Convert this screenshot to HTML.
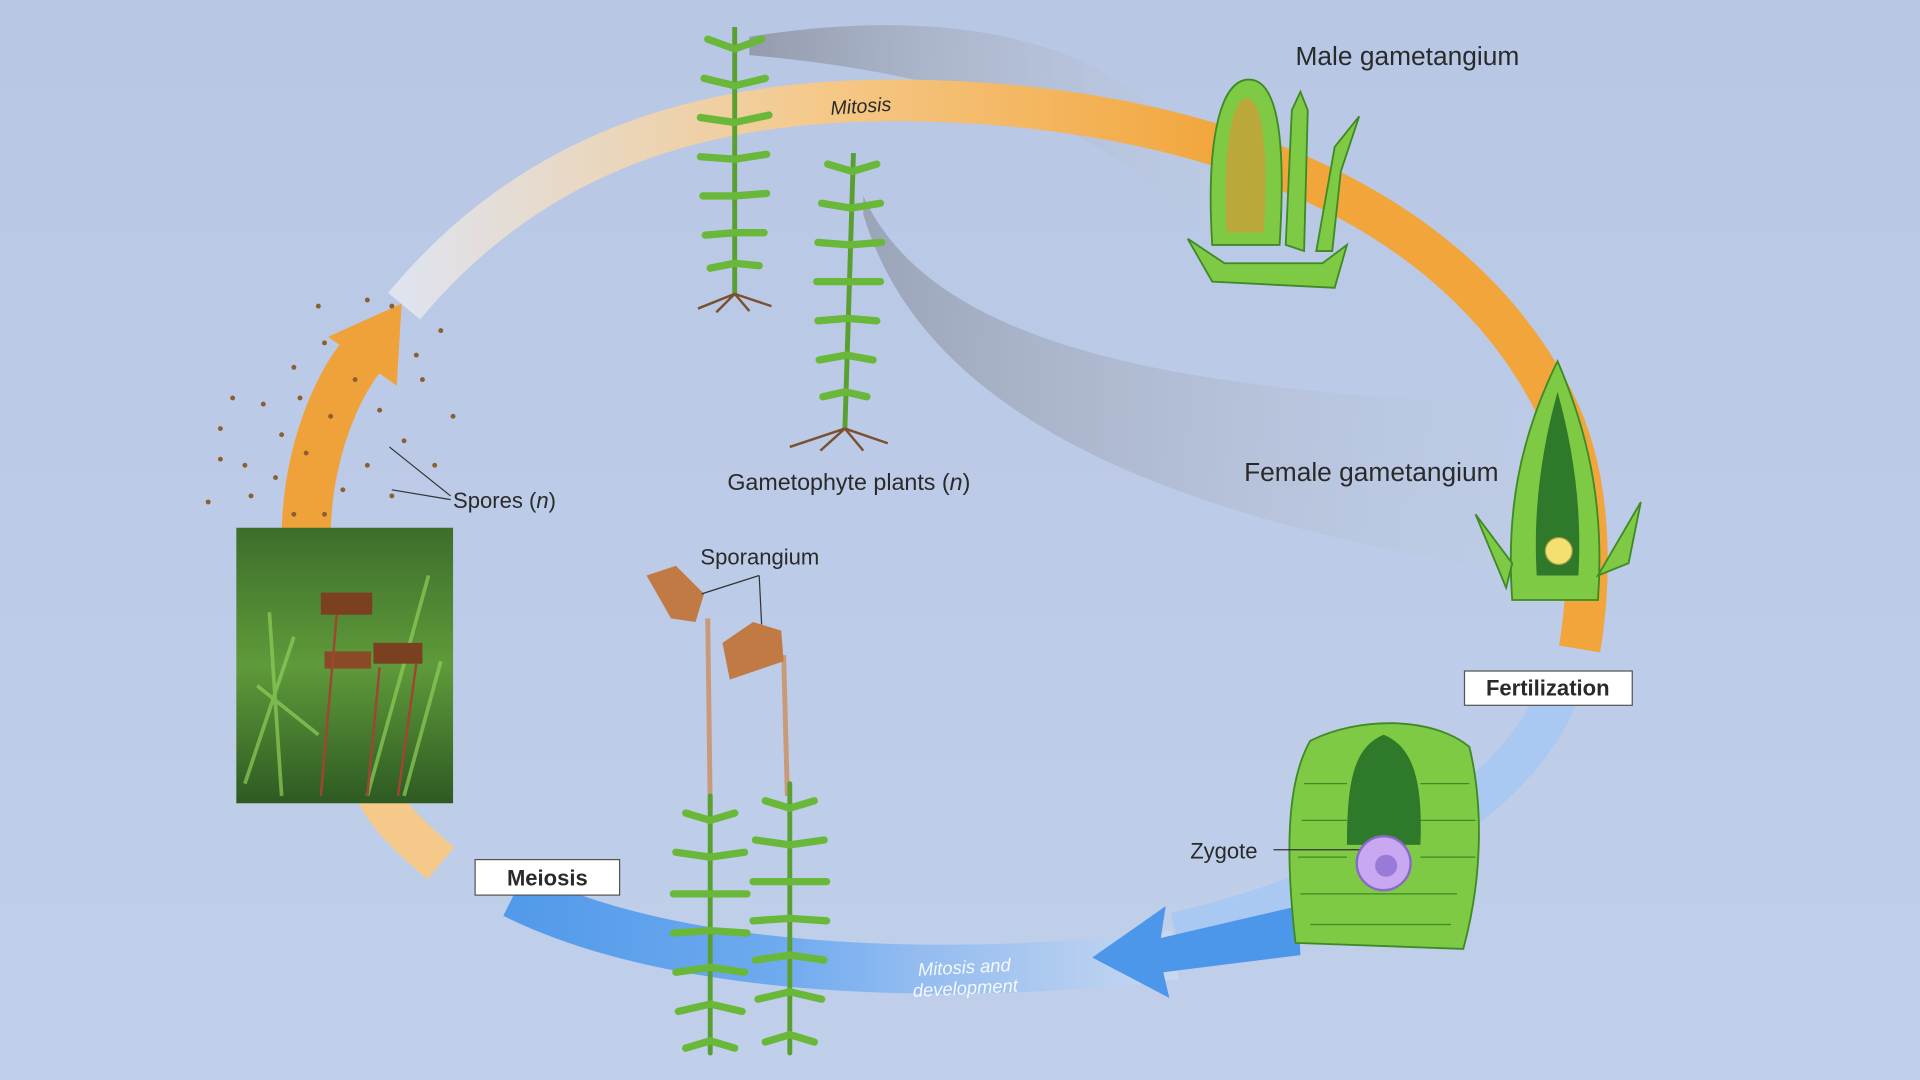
<!DOCTYPE html>
<html><head><meta charset="utf-8"><style>
html,body{margin:0;padding:0;width:1920px;height:1080px;overflow:hidden;background:#bccbe8}
svg{display:block}
text{font-family:"Liberation Sans",sans-serif;fill:#2a2a2a}
</style></head><body>
<svg width="1920" height="1080" viewBox="0 0 1568 882" xmlns="http://www.w3.org/2000/svg">
<defs>
<linearGradient id="bg" x1="0" y1="0" x2="0" y2="1"><stop offset="0" stop-color="#b8c7e4"/><stop offset="1" stop-color="#c0cfea"/></linearGradient>
<linearGradient id="org" x1="0" y1="0" x2="1" y2="0"><stop offset="0" stop-color="#dfe3ee"/><stop offset="0.35" stop-color="#f5c98a"/><stop offset="0.7" stop-color="#f2a53a"/><stop offset="1" stop-color="#f2a53a"/></linearGradient>
<linearGradient id="blu" x1="1" y1="0" x2="0" y2="0"><stop offset="0" stop-color="#c8d8f0"/><stop offset="0.4" stop-color="#8fbaf0"/><stop offset="0.6" stop-color="#6aa8ef"/><stop offset="1" stop-color="#4c97ea"/></linearGradient>
<linearGradient id="gr1" x1="0" y1="0" x2="1" y2="0"><stop offset="0" stop-color="#8f96a6" stop-opacity="0.9"/><stop offset="1" stop-color="#c4cde0" stop-opacity="0.2"/></linearGradient>
<linearGradient id="ph" x1="0" y1="0" x2="0" y2="1"><stop offset="0" stop-color="#3d6e2a"/><stop offset="0.5" stop-color="#5f9a3a"/><stop offset="1" stop-color="#2e5a22"/></linearGradient>
</defs>
<rect width="1568" height="882" fill="url(#bg)"/>
<path d="M612 30 C 800 0, 950 40, 1000 170 L 985 190 C 900 100, 780 60, 612 45 Z" fill="url(#gr1)"/>
<path d="M705 160 C 760 280, 950 320, 1245 330 L 1250 470 C 1000 430, 760 360, 705 175 Z" fill="url(#gr1)" opacity="0.8"/>
<path d="M330 250 C 430 130, 560 84, 720 82 C 950 80, 1180 150, 1270 330 C 1300 390, 1300 470, 1290 530" fill="none" stroke="url(#org)" stroke-width="34"/>
<path d="M1275 560 C 1240 660, 1100 730, 960 762" fill="none" stroke="#a9c9f2" stroke-width="34"/>
<path d="M960 780 C 800 800, 560 800, 420 730" fill="none" stroke="url(#blu)" stroke-width="40" opacity="0.95"/>
<polygon points="892,782 952,740 948,766 1060,740 1062,780 950,794 955,815" fill="#4c97ea"/>
<path d="M360 705 C 330 680, 310 660, 300 630" fill="none" stroke="#f5c98a" stroke-width="34"/>
<path d="M250 440 C 250 380, 270 320, 300 285" fill="none" stroke="#f0a23a" stroke-width="40"/>
<polygon points="268,275 328,248 324,315" fill="#f0a23a"/>
<g fill="#8a6030">
<circle cx="180" cy="350" r="2"/><circle cx="200" cy="380" r="2"/><circle cx="170" cy="410" r="2"/><circle cx="215" cy="330" r="2"/><circle cx="240" cy="300" r="2"/><circle cx="260" cy="250" r="2"/><circle cx="300" cy="245" r="2"/><circle cx="320" cy="250" r="2"/><circle cx="360" cy="270" r="2"/><circle cx="345" cy="310" r="2"/><circle cx="370" cy="340" r="2"/><circle cx="330" cy="360" r="2"/><circle cx="300" cy="380" r="2"/><circle cx="280" cy="400" r="2"/><circle cx="240" cy="420" r="2"/><circle cx="225" cy="390" r="2"/><circle cx="190" cy="325" r="2"/><circle cx="270" cy="340" r="2"/><circle cx="250" cy="370" r="2"/><circle cx="290" cy="310" r="2"/><circle cx="310" cy="335" r="2"/><circle cx="355" cy="380" r="2"/><circle cx="205" cy="405" r="2"/><circle cx="230" cy="355" r="2"/><circle cx="265" cy="280" r="2"/><circle cx="340" cy="290" r="2"/><circle cx="180" cy="375" r="2"/><circle cx="320" cy="405" r="2"/><circle cx="265" cy="420" r="2"/><circle cx="245" cy="325" r="2"/>
</g>
<line x1="318" y1="365" x2="368" y2="405" stroke="#333"/><line x1="320" y1="400" x2="368" y2="408" stroke="#333"/>
<rect x="193" y="431" width="177" height="225" fill="url(#ph)"/>
<g stroke="#8fcf5a" stroke-width="3" opacity="0.7"><line x1="200" y1="640" x2="240" y2="520"/><line x1="230" y1="650" x2="220" y2="500"/><line x1="330" y1="650" x2="360" y2="540"/><line x1="300" y1="650" x2="350" y2="470"/><line x1="210" y1="560" x2="260" y2="600"/></g>
<rect x="262" y="484" width="42" height="18" fill="#7a4020"/><rect x="305" y="525" width="40" height="17" fill="#7a4020"/><rect x="265" y="532" width="38" height="14" fill="#8a4a25"/>
<g stroke="#a04530" stroke-width="2" fill="none"><path d="M275 502 L 262 650"/><path d="M310 545 L 300 650"/><path d="M340 542 L 325 650"/></g>
<g stroke="#5aa030" stroke-width="4" fill="none">
<line x1="600" y1="22" x2="600" y2="240"/><line x1="697" y1="125" x2="690" y2="350"/>
</g>
<g stroke="#6ab83a" stroke-width="6" stroke-linecap="round">
<path d="M600 40 l-22 -8 M600 40 l22 -8 M600 70 l-25 -6 M600 70 l25 -6 M600 100 l-28 -4 M600 100 l28 -6 M600 130 l-28 -2 M600 130 l26 -4 M600 160 l-26 0 M600 160 l26 -2 M600 190 l-24 2 M600 190 l24 0 M600 215 l-20 4 M600 215 l20 2"/>
<path d="M696 140 l-20 -6 M696 140 l20 -6 M695 170 l-24 -4 M695 170 l24 -4 M694 200 l-26 -2 M694 200 l26 -2 M693 230 l-26 0 M693 230 l26 0 M692 260 l-24 2 M692 260 l24 2 M691 290 l-22 4 M691 290 l22 4 M690 320 l-18 4 M690 320 l18 4"/>
</g>
<g stroke="#7a5030" stroke-width="2"><path d="M600 240 l-30 12 M600 240 l-15 15 M600 240 l12 14 M600 240 l30 10"/><path d="M690 350 l-45 15 M690 350 l-20 18 M690 350 l15 18 M690 350 l35 12"/></g>
<g stroke="#c89a78" stroke-width="4"><line x1="578" y1="505" x2="580" y2="660"/><line x1="640" y1="535" x2="643" y2="650"/></g>
<path d="M528 470 L552 462 L575 485 L568 508 L548 505 Z" fill="#c27a45"/>
<path d="M590 525 L615 508 L638 515 L640 540 L596 555 Z" fill="#c27a45"/>
<line x1="573" y1="485" x2="620" y2="470" stroke="#333"/><line x1="620" y1="470" x2="622" y2="510" stroke="#333"/>
<g stroke="#6ab83a" stroke-width="6" stroke-linecap="round">
<line x1="580" y1="650" x2="580" y2="860" stroke="#5aa030" stroke-width="4"/><line x1="645" y1="640" x2="645" y2="860" stroke="#5aa030" stroke-width="4"/>
<path d="M580 670 l-20 -6 M580 670 l20 -6 M580 700 l-28 -4 M580 700 l28 -4 M580 730 l-30 0 M580 730 l30 0 M580 760 l-30 2 M580 760 l30 2 M580 790 l-28 4 M580 790 l28 4 M580 820 l-26 6 M580 820 l26 6 M580 850 l-20 6 M580 850 l20 6"/>
<path d="M645 660 l-20 -6 M645 660 l20 -6 M645 690 l-28 -4 M645 690 l28 -4 M645 720 l-30 0 M645 720 l30 0 M645 750 l-30 2 M645 750 l30 2 M645 780 l-28 4 M645 780 l28 4 M645 810 l-26 6 M645 810 l26 6 M645 845 l-20 6 M645 845 l20 6"/>
</g>
<g fill="#7fca45" stroke="#3f8a25" stroke-width="1.5">
<path d="M990 200 C 985 120, 995 65, 1020 65 C 1045 65, 1050 120, 1045 200 Z"/>
<path d="M1050 200 L1055 90 L1062 75 L1068 90 L1065 205 Z"/>
<path d="M1075 205 L1090 120 L1110 95 L1095 140 L1088 205 Z"/>
<path d="M970 195 L990 230 L1090 235 L1100 200 L1080 215 L1000 215 Z"/>
</g>
<path d="M1002 190 C 998 130, 1005 80, 1018 80 C 1032 80, 1036 130, 1032 190 Z" fill="#c4a23a" opacity="0.85"/>
<g fill="#7fca45" stroke="#3f8a25" stroke-width="1.5">
<path d="M1235 490 C 1230 420, 1240 360, 1272 295 C 1300 360, 1310 420, 1305 490 Z"/>
<path d="M1205 420 L1235 460 L1230 480 Z"/><path d="M1340 410 L1330 460 L1305 470 Z"/>
</g>
<path d="M1255 470 C 1252 420, 1258 370, 1272 320 C 1286 370, 1292 420, 1289 470 Z" fill="#2f7a2a"/>
<circle cx="1273" cy="450" r="11" fill="#f3e070" stroke="#a0a040"/>
<path d="M1058 770 C 1050 700, 1050 640, 1070 605 C 1110 585, 1170 585, 1200 610 C 1212 660, 1210 720, 1195 775 Z" fill="#7fca45" stroke="#3f8a25" stroke-width="1.5"/>
<path d="M1100 690 C 1100 640, 1105 610, 1130 600 C 1155 610, 1162 640, 1160 690 Z" fill="#2f7a2a"/>
<g stroke="#3f8a25" stroke-width="1" fill="none"><path d="M1065 640 H1100 M1063 670 H1100 M1060 700 H1100 M1062 730 H1190 M1070 755 H1185 M1160 640 H1200 M1160 670 H1205 M1160 700 H1205"/></g>
<circle cx="1130" cy="705" r="22" fill="#c8a8f0" stroke="#8a6ac8" stroke-width="2"/><circle cx="1132" cy="707" r="9" fill="#9a7ad8"/>
<line x1="1040" y1="694" x2="1110" y2="694" stroke="#333"/>
<text x="1058" y="53" font-size="21.5">Male gametangium</text>
<text x="678" y="92" font-size="16" font-style="italic" transform="rotate(-4 705 85)">Mitosis</text>
<text x="594" y="400" font-size="19">Gametophyte plants (<tspan font-style="italic">n</tspan>)</text>
<text x="1016" y="393" font-size="21.5">Female gametangium</text>
<text x="370" y="415" font-size="18">Spores (<tspan font-style="italic">n</tspan>)</text>
<text x="572" y="461" font-size="18">Sporangium</text>
<text x="972" y="701" font-size="18">Zygote</text>
<rect x="1196" y="548" width="137" height="28" fill="#fff" stroke="#555"/>
<text x="1264" y="568" font-size="18" font-weight="bold" text-anchor="middle">Fertilization</text>
<rect x="388" y="702" width="118" height="29" fill="#fff" stroke="#555"/>
<text x="447" y="723" font-size="18" font-weight="bold" text-anchor="middle">Meiosis</text>
<text x="788" y="795" font-size="15" font-style="italic" text-anchor="middle" style="fill:#f4f8ff" transform="rotate(-3 788 800)">Mitosis and</text>
<text x="788" y="812" font-size="15" font-style="italic" text-anchor="middle" style="fill:#f4f8ff" transform="rotate(-3 788 800)">development</text>
</svg>
</body></html>
